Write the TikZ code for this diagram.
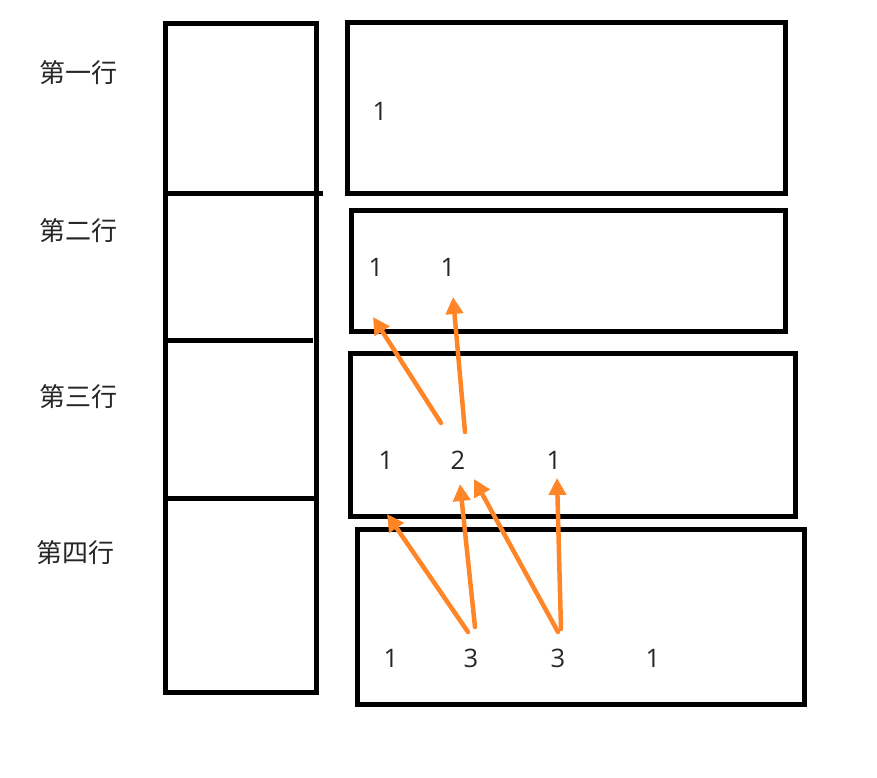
\documentclass[tikz,border=0pt]{standalone}
\usepackage{fontspec}
\setmainfont{Open Sans}
\newfontfamily\cjk{Noto Sans CJK SC}
\usetikzlibrary{arrows.meta}
\definecolor{arrorange}{RGB}{255,133,39}
\tikzset{
  rowlabel/.style={font=\cjk\fontsize{26}{30}\selectfont, text=black!85},
  num/.style={font=\fontsize{25.5}{30}\selectfont, text=black!85, inner sep=0pt},
  boxline/.style={draw=black, line width=5pt, inner sep=0pt},
  arr/.style={draw=arrorange, line width=4.5pt, line cap=round, -{Triangle[length=17pt,width=17pt]}},
}
\begin{document}
\begin{tikzpicture}[x=1pt,y=-1pt]
\useasboundingbox (0,0) rectangle (877,778);
% left column
\node[boxline, minimum width=151pt, minimum height=668pt] (col) at (240.5,358) {};
\coordinate (d1a) at (165,193); \coordinate (d1b) at (323,193);
\coordinate (d2a) at (165,340); \coordinate (d2b) at (313,340);
\coordinate (d3a) at (165,498); \coordinate (d3b) at (316,498);
\draw[line width=5pt] (d1a) -- (d1b);
\draw[line width=5pt] (d2a) -- (d2b);
\draw[line width=5pt] (d3a) -- (d3b);
% labels
\node[rowlabel] (l1) at (78,73) {第一行};
\node[rowlabel] (l2) at (78,231) {第二行};
\node[rowlabel] (l3) at (78,397) {第三行};
\node[rowlabel] (l4) at (75,553) {第四行};
% right boxes
\node[boxline, minimum width=438pt, minimum height=170pt] (b1) at (566,108) {};
\node[boxline, minimum width=434pt, minimum height=121pt] (b2) at (568,270.5) {};
\node[boxline, minimum width=445pt, minimum height=163pt] (b3) at (572.5,434.5) {};
\node[boxline, minimum width=447pt, minimum height=175pt] (b4) at (580.5,616.5) {};
% numbers
\node[num] (r1a) at (380,111) {1};
\node[num] (r2a) at (376,267) {1};
\node[num] (r2b) at (448,267) {1};
\node[num] (r3a) at (386,460) {1};
\node[num] (r3b) at (458,460) {2};
\node[num] (r3c) at (554,460) {1};
\node[num] (r4a) at (391,658) {1};
\node[num] (r4b) at (471,658) {3};
\node[num] (r4c) at (558,658) {3};
\node[num] (r4d) at (653,658) {1};
% arrow ends
\coordinate (a1s) at (441,423); \coordinate (a1e) at (373,317);
\coordinate (a2s) at (465,432); \coordinate (a2e) at (453,297);
\coordinate (a3s) at (468,632); \coordinate (a3e) at (387,514);
\coordinate (a4s) at (475,627); \coordinate (a4e) at (460,484);
\coordinate (a5s) at (558,632); \coordinate (a5e) at (474,479);
\coordinate (a6s) at (561,629); \coordinate (a6e) at (557,478);
\draw[arr] (a1s) -- (a1e);
\draw[arr] (a2s) -- (a2e);
\draw[arr] (a3s) -- (a3e);
\draw[arr] (a4s) -- (a4e);
\draw[arr] (a5s) -- (a5e);
\draw[arr] (a6s) -- (a6e);
\end{tikzpicture}
\end{document}
